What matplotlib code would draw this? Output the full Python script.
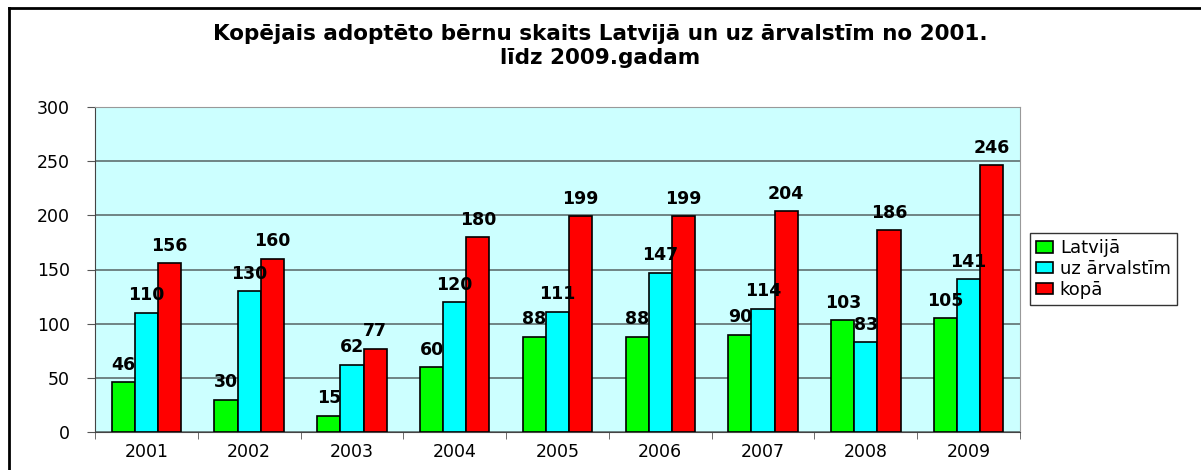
import matplotlib.pyplot as plt
import numpy as np
from matplotlib.lines import Line2D

plt.rcParams['font.family'] = ['DejaVu Sans']

# dati
gadi = ['2001', '2002', '2003', '2004', '2005', '2006', '2007', '2008', '2009']
latvija = [46, 30, 15, 60, 88, 88, 90, 103, 105]
arvalstim = [110, 130, 62, 120, 111, 147, 114, 83, 141]
kopa = [156, 160, 77, 180, 199, 199, 204, 186, 246]
nosaukumi = ['Latvijā', 'uz ārvalstīm', 'kopā']
krasas = ['#00FF00', '#00FFFF', '#FF0000']

fig = plt.figure(figsize=(12.01, 4.70), dpi=100)
ax = fig.add_axes([95 / 1201, 1 - 432 / 470, 925 / 1201, 325 / 470])
ax.set_facecolor('#CCFFFF')

x = np.arange(len(gadi))
w = 0.225
for i, (vals, c, n) in enumerate(zip([latvija, arvalstim, kopa], krasas, nosaukumi)):
    bars = ax.bar(x + (i - 1) * w, vals, w, color=c, edgecolor='black',
                  linewidth=1.2, label=n, zorder=3)
    for b, v in zip(bars, vals):
        ax.annotate(str(v), (b.get_x() + b.get_width() / 2, v),
                    xytext=(0, 6), textcoords='offset points',
                    ha='center', va='bottom', fontsize=12.5,
                    fontweight='bold', zorder=5)

ax.set_xlim(-0.5, len(gadi) - 0.5)
ax.set_ylim(0, 300)
ax.set_yticks(range(0, 301, 50))
ax.set_xticks(x)
ax.set_xticklabels(gadi, fontsize=12.5)
ax.set_xticks(np.arange(-0.5, len(gadi), 1), minor=True)
ax.tick_params(axis='x', which='major', length=0, pad=8)
ax.tick_params(axis='x', which='minor', length=5, direction='out', color='#555555')
ax.tick_params(axis='y', length=6, direction='out', color='#555555', labelsize=12.5, pad=12)
ax.grid(axis='y', color='#5f7070', linewidth=1.2, zorder=1)
for s in ['top', 'right']:
    ax.spines[s].set_color('#999999')
for s in ['left', 'bottom']:
    ax.spines[s].set_color('#444444')

fig.text(0.5, 1 - 46 / 470, 'Kopējais adoptēto bērnu skaits Latvijā un uz ārvalstīm no 2001.\nlīdz 2009.gadam',
         ha='center', va='center', fontsize=15.5, fontweight='bold', linespacing=1.3)

leg = fig.legend(loc='upper left', bbox_to_anchor=(1030 / 1201, 1 - 233 / 470),
                 fontsize=13, frameon=True, fancybox=False, edgecolor='black',
                 handlelength=0.9, handleheight=0.6, handletextpad=0.4,
                 labelspacing=0.15, borderpad=0.35, borderaxespad=0)
leg.get_frame().set_linewidth(1.0)

# rāmis ap diagrammu
fig.add_artist(Line2D([9 / 1201, 9 / 1201], [0, 1 - 8 / 470], color='black', linewidth=2,
                      transform=fig.transFigure))
fig.add_artist(Line2D([9 / 1201, 1], [1 - 8 / 470, 1 - 8 / 470], color='black', linewidth=2,
                      transform=fig.transFigure))

fig.savefig('out.png', dpi=100)
